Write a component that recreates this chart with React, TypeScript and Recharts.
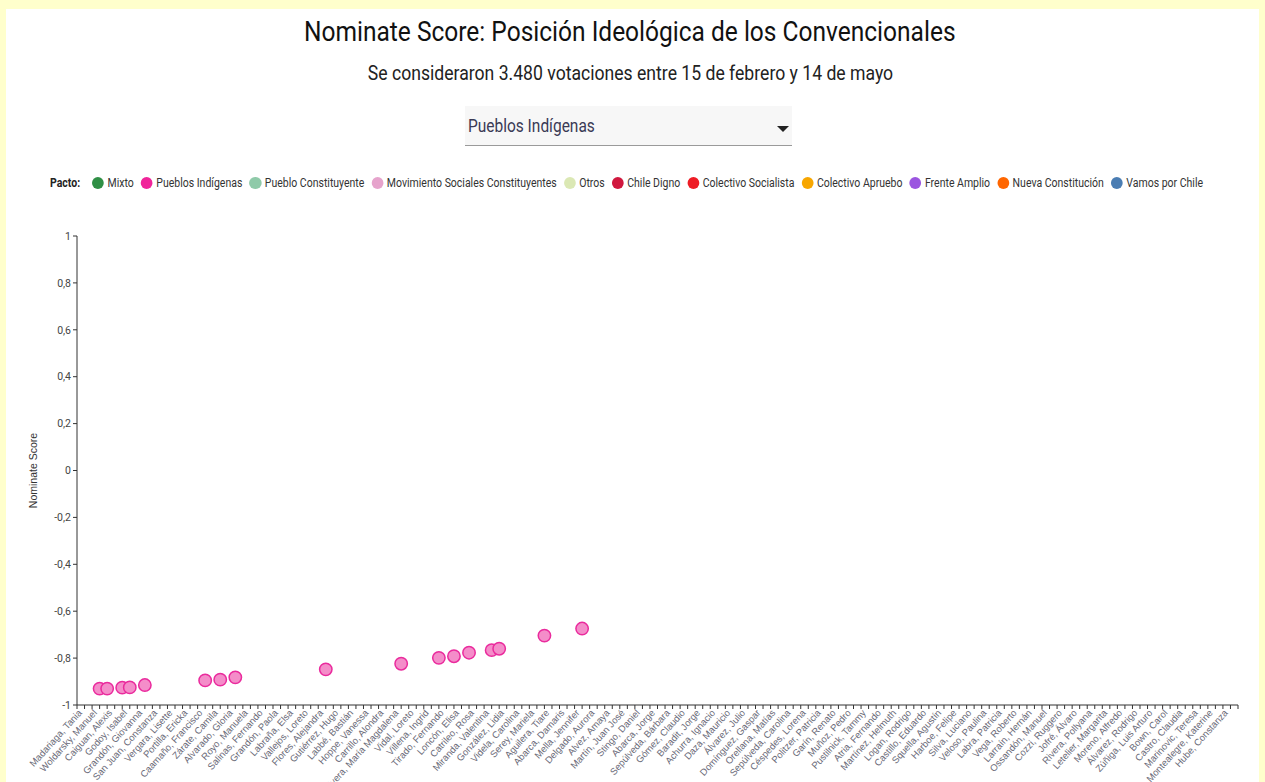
import { ScatterChart, Scatter, XAxis, YAxis, Label } from 'recharts';

// one label for every second convencional (ordered by score), as printed on the x axis
const nameLabels = [
  'Madariaga, Tania', 'Woldarsky, Manuel', 'Caiguan, Alexis', 'Godoy, Isabel',
  'Grandón, Giovanna', 'San Juan, Constanza', 'Vergara, Lisette', 'Portilla, Ericka',
  'Caamaño, Francisco', 'Zárate, Camila', 'Alvarado, Gloria', 'Royo, Manuela',
  'Salinas, Fernando', 'Grandón, Paola', 'Labraña, Elsa', 'Vallejos, Loreto',
  'Flores, Alejandra', 'Gutiérrez, Hugo', 'Labbé, Bastián', 'Hoppe, Vanessa',
  'Carrillo, Alondra', 'Rivera, María Magdalena', 'Vidal, Loreto', 'Villena, Ingrid',
  'Tirado, Fernando', 'Loncón, Elisa', 'Catrileo, Rosa', 'Miranda, Valentina',
  'González, Lidia', 'Videla, Carolina', 'Serey, Mariela', 'Aguilera, Tiare',
  'Abarca, Damaris', 'Mella, Jennifer', 'Delgado, Aurora', 'Alvez, Amaya',
  'Martín, Juan José', 'Stingo, Daniel', 'Abarca, Jorge', 'Sepúlveda, Bárbara',
  'Gómez, Claudio', 'Baradit, Jorge', 'Achurra, Ignacio', 'Daza, Mauricio',
  'Álvarez, Julio', 'Domínguez, Gaspar', 'Orellana, Matías', 'Sepúlveda, Carolina',
  'Céspedes, Lorena', 'Politzer, Patricia', 'Garín, Renato', 'Muñoz, Pedro',
  'Pustilnick, Tammy', 'Atria, Fernando', 'Martínez, Helmuth', 'Logan, Rodrigo',
  'Castillo, Eduardo', 'Squella, Agustín', 'Harboe, Felipe', 'Silva, Luciano',
  'Veloso, Paulina', 'Labra, Patricia', 'Vega, Roberto', 'Larraín, Hernán',
  'Ossandón, Manuel', 'Cozzi, Ruggero', 'Jofré, Álvaro', 'Rivera, Pollyana',
  'Letelier, Margarita', 'Moreno, Alfredo', 'Álvarez, Rodrigo', 'Zúñiga, Luis Arturo',
  'Bown, Carol', 'Castro, Claudia', 'Marinovic, Teresa', 'Montealegre, Katerine',
  'Hube, Constanza',
];

const memberCount = 155;

// position (rank) of each Pueblos Indígenas member and their score
const pointRank = [3, 4, 6, 7, 9, 17, 19, 21, 33, 43, 48, 50, 52, 55, 56, 62, 67];
const pointScore = [
  -0.93, -0.93, -0.926, -0.925, -0.915, -0.895, -0.892, -0.882, -0.848,
  -0.824, -0.799, -0.792, -0.777, -0.766, -0.76, -0.704, -0.674,
];

const yTicks = [-1, -0.8, -0.6, -0.4, -0.2, 0, 0.2, 0.4, 0.6, 0.8, 1];

const pactoNames = [
  'Mixto', 'Pueblos Indígenas', 'Pueblo Constituyente', 'Movimiento Sociales Constituyentes',
  'Otros', 'Chile Digno', 'Colectivo Socialista', 'Colectivo Apruebo', 'Frente Amplio',
  'Nueva Constitución', 'Vamos por Chile',
];
const pactoColors = [
  '#2f8f45', '#f0249a', '#8fcaa9', '#e6a3cc', '#dbe8b4', '#d0183e', '#ee1c25',
  '#f7a600', '#9b55e0', '#ff6600', '#4a7db3',
];

const xTicks = Array.from({ length: memberCount }, (_, i) => i);
const points = pointRank.map((rank, i) => ({ rank, score: pointScore[i] }));

const narrow = 'Roboto, sans-serif';
const arial = '"Liberation Sans", Arial, sans-serif';
// the original uses a condensed face; squeeze Roboto to match
const SQ = 0.84;

const NameTick = (props: any) => {
  const { x, y, payload } = props;
  const idx = payload.value as number;
  const name = idx % 2 === 0 ? nameLabels[idx / 2] : undefined;
  if (!name) return <g />;
  return (
    <g transform={`translate(${x + 3},${y})`}>
      <text
        x={0}
        y={0}
        dy="0.35em"
        textAnchor="end"
        transform="rotate(-48)"
        fontSize={9.5}
        fontFamily={arial}
        fill="#6a6a78"
      >
        {name}
      </text>
    </g>
  );
};

const fmt = (v: number) => String(v).replace('.', ',');

const App = () => (
  <div
    style={{
      position: 'fixed',
      left: 0,
      top: 0,
      width: 1265,
      height: 782,
      overflow: 'hidden',
      background: '#ffffcc',
      fontFamily: narrow,
    }}
  >
    <div style={{ position: 'absolute', left: 6, top: 9, width: 1253, height: 800, background: '#fff' }} />
    <div
      style={{
        position: 'absolute', left: 0, top: 16, width: 1260, textAlign: 'center',
        fontSize: 28.5, lineHeight: '32px', color: '#111',
      }}
    >
      <span style={{ display: 'inline-block', transform: 'scaleX(0.86)', whiteSpace: 'nowrap' }}>
        Nominate Score: Posición Ideológica de los Convencionales
      </span>
    </div>
    <div
      style={{
        position: 'absolute', left: 0, top: 61, width: 1260, textAlign: 'center',
        fontSize: 20, lineHeight: '24px', color: '#222',
      }}
    >
      <span style={{ display: 'inline-block', transform: 'scaleX(0.88)', whiteSpace: 'nowrap' }}>
        Se consideraron 3.480 votaciones entre 15 de febrero y 14 de mayo
      </span>
    </div>
    <div
      style={{
        position: 'absolute', left: 465, top: 106, width: 327, height: 39,
        background: '#f7f7f7', borderBottom: '1px solid #9a9a9a',
      }}
    >
      <span
        style={{
          position: 'absolute', left: 3, top: 9, fontSize: 18, lineHeight: '22px', color: '#3a3a55',
          transform: 'scaleX(0.86)', transformOrigin: 'left center', whiteSpace: 'nowrap',
        }}
      >
        Pueblos Indígenas
      </span>
      <span
        style={{
          position: 'absolute', left: 312, top: 20, width: 0, height: 0,
          borderLeft: '6px solid transparent', borderRight: '6px solid transparent',
          borderTop: '6px solid #222',
        }}
      />
    </div>
    <div
      style={{
        position: 'absolute', left: 50, top: 174, display: 'flex', alignItems: 'center',
        fontSize: 12.5, lineHeight: '18px', color: '#333', whiteSpace: 'nowrap',
        transform: `scaleX(${SQ})`, transformOrigin: 'left center',
      }}
    >
      <span style={{ fontWeight: 'bold', color: '#222', marginRight: 12 / SQ }}>Pacto:</span>
      {pactoNames.map((n, i) => (
        <span key={n} style={{ display: 'flex', alignItems: 'center', marginRight: 7 / SQ }}>
          <span
            style={{
              display: 'inline-block', width: 12 / SQ, height: 12, borderRadius: '50%',
              background: pactoColors[i], marginRight: 3.5 / SQ,
            }}
          />
          {n}
        </span>
      ))}
    </div>
    <div style={{ position: 'absolute', left: 0, top: 165 }}>
      <ScatterChart width={1265} height={640} margin={{ top: 71, right: 27, left: 28, bottom: 0 }}>
        <XAxis
          type="number"
          dataKey="rank"
          domain={[0, memberCount - 1]}
          ticks={xTicks}
          interval={0}
          tickSize={4}
          tick={<NameTick />}
          height={100}
          stroke="#333"
          allowDataOverflow
        />
        <YAxis
          type="number"
          dataKey="score"
          domain={[-1, 1]}
          ticks={yTicks}
          interval={0}
          tickSize={4}
          tickFormatter={fmt}
          width={49}
          stroke="#333"
          tick={{ fill: '#444', fontSize: 10.5, fontFamily: narrow }}
        >
          <Label
            value="Nominate Score"
            angle={-90}
            position="insideLeft"
            offset={5}
            style={{ textAnchor: 'middle', fontSize: 10.5, fill: '#333', fontFamily: arial }}
          />
        </YAxis>
        <Scatter
          data={points}
          fill="#f48dc9"
          stroke="#ea2b9d"
          strokeWidth={1.5}
          shape={(p: any) => (
            <circle cx={p.cx} cy={p.cy} r={6.2} fill="#f48dc9" stroke="#ea2b9d" strokeWidth={1.5} />
          )}
          isAnimationActive={false}
        />
      </ScatterChart>
    </div>
  </div>
);

export default App;
